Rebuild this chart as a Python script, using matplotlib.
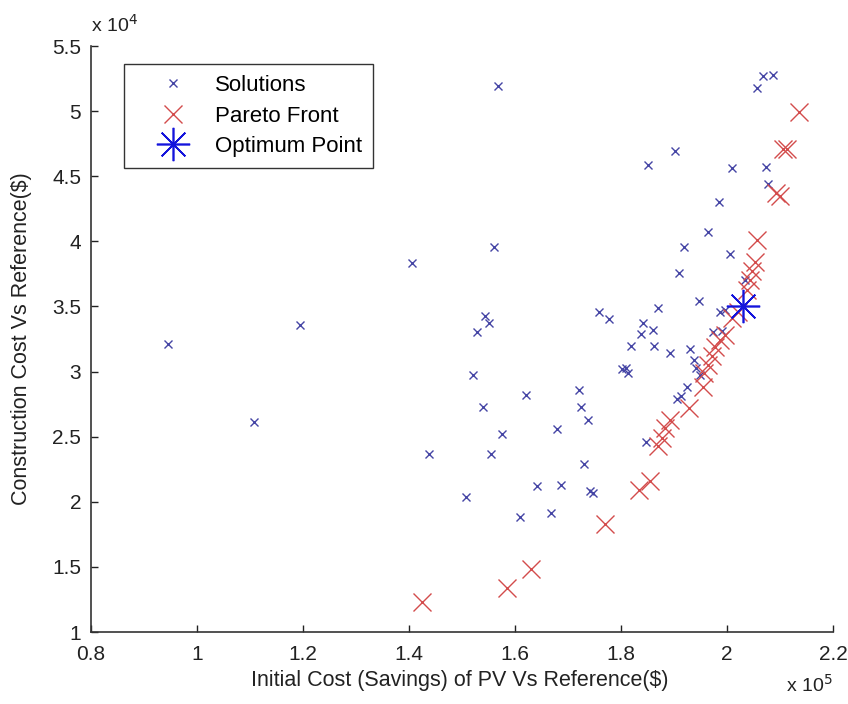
import matplotlib
matplotlib.use('Agg')
import matplotlib.pyplot as plt
from matplotlib.ticker import FuncFormatter

plt.rcParams['font.family'] = ['Liberation Sans', 'DejaVu Sans']

# all solutions: initial cost (x 1e5 $), construction cost (x 1e4 $)
sol_x = [0.946, 1.108, 1.194, 1.405, 1.437, 1.508, 1.521, 1.528, 1.540, 1.543,
         1.551, 1.554, 1.560, 1.567, 1.576, 1.609, 1.621, 1.641, 1.667, 1.680,
         1.686, 1.721, 1.724, 1.730, 1.738, 1.742, 1.747, 1.758, 1.777, 1.801,
         1.810, 1.813, 1.818, 1.838, 1.841, 1.847, 1.851, 1.861, 1.863, 1.870,
         1.892, 1.902, 1.906, 1.909, 1.914, 1.918, 1.924, 1.931, 1.938, 1.941,
         1.948, 1.950, 1.964, 1.974, 1.984, 1.987, 1.990, 1.996, 2.006, 2.009,
         2.034, 2.057, 2.067, 2.074, 2.078, 2.087]
sol_y = [3.21, 2.61, 3.36, 3.83, 2.37, 2.04, 2.97, 3.30, 2.73, 3.43,
         3.37, 2.37, 3.96, 5.19, 2.52, 1.88, 2.82, 2.12, 1.91, 2.56,
         2.13, 2.86, 2.73, 2.29, 2.63, 2.08, 2.07, 3.46, 3.40, 3.02,
         3.03, 2.99, 3.20, 3.29, 3.37, 2.46, 4.59, 3.32, 3.20, 3.49,
         3.14, 4.69, 2.79, 3.76, 2.81, 3.96, 2.88, 3.17, 3.09, 3.03,
         3.54, 2.97, 4.07, 3.30, 4.30, 3.46, 3.31, 3.47, 3.90, 4.56,
         3.70, 5.18, 5.27, 4.57, 4.44, 5.28]

# pareto front
par_x = [1.424, 1.585, 1.631, 1.770, 1.834, 1.855, 1.870, 1.877, 1.883, 1.892,
         1.928, 1.955, 1.957, 1.965, 1.971, 1.977, 1.987, 1.997, 2.009, 2.021,
         2.037, 2.043, 2.047, 2.053, 2.056, 2.092, 2.100, 2.105, 2.114, 2.135]
par_y = [1.23, 1.34, 1.48, 1.83, 2.09, 2.16, 2.43, 2.49, 2.57, 2.63,
         2.72, 2.88, 2.99, 3.05, 3.12, 3.19, 3.24, 3.28, 3.41, 3.46,
         3.63, 3.70, 3.77, 3.84, 4.01, 4.37, 4.35, 4.71, 4.71, 4.99]

opt_x = [2.031]
opt_y = [3.50]

x_ticks = [0.8, 1.0, 1.2, 1.4, 1.6, 1.8, 2.0, 2.2]
y_ticks = [1, 1.5, 2, 2.5, 3, 3.5, 4, 4.5, 5, 5.5]

fig = plt.figure(figsize=(8.48, 7.04), dpi=100)
ax = fig.add_axes([91/848, 72/704, 742/848, 586/704])

ax.plot(sol_x, sol_y, 'x', color='#4545a5', markersize=5.5, markeredgewidth=1.0,
        label='Solutions')
ax.plot(par_x, par_y, 'x', color='#d34c4c', markersize=13, markeredgewidth=1.0,
        label='Pareto Front')
ax.plot(opt_x, opt_y, marker=(8, 2, 0), linestyle='none', color='#1414dc',
        markersize=24, markeredgewidth=1.2, label='Optimum Point')
ax.plot(opt_x, opt_y, 'o', color='#1414dc', markersize=3)

ax.set_xlim(0.8, 2.2)
ax.set_ylim(1, 5.5)
ax.set_xticks(x_ticks)
ax.set_yticks(y_ticks)
fmt = FuncFormatter(lambda v, p: '%g' % v)
ax.xaxis.set_major_formatter(fmt)
ax.yaxis.set_major_formatter(fmt)
ax.tick_params(direction='in', length=5, width=1, labelsize=15, colors='#222222')
ax.tick_params(axis='x', pad=9)
ax.tick_params(axis='y', pad=7)

for s in ['top', 'right']:
    ax.spines[s].set_visible(False)
for s in ['left', 'bottom']:
    ax.spines[s].set_linewidth(1.2)
    ax.spines[s].set_color('#333333')

ax.set_xlabel('Initial Cost (Savings) of PV Vs Reference($)', fontsize=15.5,
              color='#222222', va='center')
ax.xaxis.set_label_coords(0.497, -0.082)
ax.set_ylabel('Construction Cost Vs Reference($)', fontsize=15.5,
              color='#222222', va='center')
ax.yaxis.set_label_coords(-0.093, 0.5)

ax.text(0.0, 1.018, 'x 10$^4$', transform=ax.transAxes, fontsize=14,
        ha='left', va='bottom', color='#222222')
ax.text(1.0, -0.072, 'x 10$^5$', transform=ax.transAxes, fontsize=14,
        ha='right', va='top', color='#222222')

leg = ax.legend(loc='upper left', bbox_to_anchor=(0.0445, 0.969), fontsize=16,
                frameon=True, fancybox=False, edgecolor='black', borderpad=0.5,
                borderaxespad=0, handlelength=3.4, handletextpad=0.2,
                labelspacing=0.42)
leg.get_frame().set_linewidth(1.0)

fig.savefig('out.png', dpi=100, facecolor='white')
